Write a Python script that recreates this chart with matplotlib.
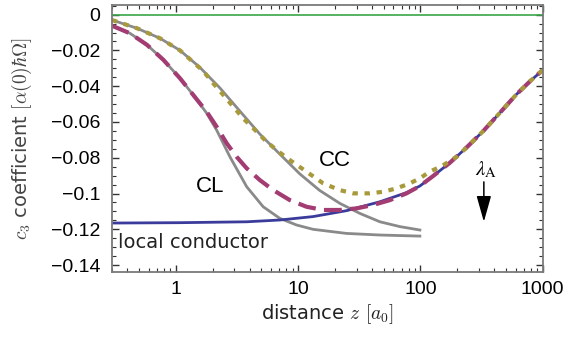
"""c3 coefficient vs distance z: local conductor, CL and CC curves."""

import numpy as np
import matplotlib
matplotlib.use('Agg')
import matplotlib.pyplot as plt
from matplotlib.ticker import FixedLocator, FuncFormatter, MultipleLocator, LogLocator, NullFormatter

# --- data ------------------------------------------------------------------
# local conductor (blue, solid)
z_local = [0.3, 1.08, 3.79, 7.08, 13.2, 24.8, 46.6, 76.9, 98.9, 127, 174, 238, 326, 446,
           611, 800, 1000]
c3_local = [-0.1165, -0.1163, -0.1158, -0.1148, -0.1129, -0.1096, -0.1046, -0.0995, -0.0958,
            -0.0902, -0.0828, -0.0743, -0.0651, -0.0549, -0.0445, -0.0368, -0.0310]

# CL, gray solid (ends at z = 100)
z_cl = [0.3, 0.42, 0.58, 0.79, 1.08, 1.385, 1.78, 2.15, 2.76, 3.79, 5.17, 7.08, 9.7, 13.2,
        24.8, 46.6, 98.9]
c3_cl = [-0.0062, -0.0104, -0.0169, -0.0253, -0.0356, -0.0449, -0.0550, -0.0645, -0.0794,
         -0.0962, -0.1074, -0.1139, -0.1176, -0.1200, -0.1223, -0.1232, -0.1238]

# CC, gray solid (ends at z = 100)
z_cc = [0.3, 0.48, 0.74, 1.08, 1.57, 2.29, 3.34, 4.86, 7.08, 10.3, 15.0, 21.9, 31.9, 46.6,
        67.9, 98.9]
c3_cc = [-0.0030, -0.0076, -0.0132, -0.0200, -0.0295, -0.0410, -0.0540, -0.0668, -0.0780,
         -0.0890, -0.0983, -0.1055, -0.1111, -0.1158, -0.1185, -0.1204]

# CL full result (purple, dashed)
z_cl_full = [0.3, 0.42, 0.58, 0.79, 1.08, 1.385, 1.78, 2.15, 2.60, 3.13, 3.79, 4.86, 6.25,
             8.55, 11.7, 16.0, 21.9, 30.0, 41.0, 56.2, 76.9, 98.9, 127, 174, 238, 326, 446,
             611, 800, 1000]
c3_cl_full = [-0.0062, -0.0104, -0.0169, -0.0253, -0.0356, -0.0449, -0.0542, -0.0626, -0.0719,
              -0.0794, -0.0859, -0.0925, -0.0981, -0.1037, -0.1074, -0.1092, -0.1092, -0.1083,
              -0.1064, -0.1037, -0.0999, -0.0958, -0.0902, -0.0828, -0.0743, -0.0651, -0.0549,
              -0.0445, -0.0368, -0.0310]

# CC full result (olive, dotted)
z_cc_full = [0.3, 0.48, 0.74, 1.08, 1.67, 2.02, 2.44, 2.94, 3.55, 4.29, 5.34, 6.65, 8.55, 11.7,
             16.0, 21.9, 28.2, 38.6, 49.6, 63.8, 81.9, 98.9, 119, 150, 200, 238, 326, 446,
             611, 800, 1000]
c3_cc_full = [-0.0030, -0.0076, -0.0132, -0.0200, -0.0315, -0.0384, -0.0449, -0.0514, -0.0580,
              -0.0635, -0.0701, -0.0757, -0.0813, -0.0878, -0.0943, -0.0981, -0.0999, -0.0999,
              -0.0990, -0.0971, -0.0943, -0.0915, -0.0878, -0.0846, -0.0792, -0.0743, -0.0651,
              -0.0549, -0.0445, -0.0368, -0.0310]

yticks = [0, -0.02, -0.04, -0.06, -0.08, -0.1, -0.12, -0.14]
lambda_a = 330  # position of the lambda_A arrow

# --- figure -----------------------------------------------------------------
fig = plt.figure(figsize=(5.68, 3.40), dpi=100)
ax = fig.add_axes([0.1966, 0.2009, 0.7589, 0.7844])

ax.axhline(0, color='#3aa64a', lw=1.2)
ax.plot(z_cl, c3_cl, color='#8a8a8a', lw=2.0)
ax.plot(z_cc, c3_cc, color='#8a8a8a', lw=2.0)
ax.plot(z_local, c3_local, color='#3b3b9c', lw=2.0)
ax.plot(z_cl_full, c3_cl_full, color='#a23c72', lw=3.0, dashes=(4.3, 2.0))
ax.plot(z_cc_full, c3_cc_full, color='#a89a3c', lw=3.0, dashes=(1.3, 1.6))

ax.set_xscale('log')
ax.set_xlim(0.298, 1000)
ax.set_ylim(-0.1437, 0.0054)

ax.xaxis.set_major_locator(FixedLocator([1, 10, 100, 1000]))
ax.xaxis.set_major_formatter(FuncFormatter(lambda v, p: f'{v:g}'))
ax.xaxis.set_minor_locator(LogLocator(base=10, subs=np.arange(2, 10)))
ax.xaxis.set_minor_formatter(NullFormatter())
ax.yaxis.set_major_locator(FixedLocator(yticks))
ax.yaxis.set_major_formatter(FuncFormatter(lambda v, p: f'{v:g}'.replace('-', '\u2212')))
ax.yaxis.set_minor_locator(MultipleLocator(0.005))

ax.tick_params(which='both', direction='in', top=True, right=True, color='#333333',
               labelsize=14, labelfontfamily='Liberation Sans')
ax.tick_params(which='major', length=5, width=1)
ax.tick_params(which='minor', length=3, width=0.8)
ax.tick_params(axis='x', which='major', pad=7)
ax.tick_params(axis='y', which='major', pad=8)
for s in ax.spines.values():
    s.set_color('#7a7a7a')
    s.set_linewidth(1.3)

ax.set_xlabel(r'distance $z$ $[a_0]$', fontsize=14, color='#222222',
              math_fontfamily='cm', labelpad=3)
ax.set_ylabel(r'$c_3$ coefficient $[\alpha(0)\hbar\Omega]$', fontsize=14, color='#444444',
              math_fontfamily='cm', labelpad=12)

ax.text(20, -0.0813, 'CC', fontsize=16, family='Liberation Sans', ha='center', va='center')
ax.text(1.9, -0.0962, 'CL', fontsize=16, family='Liberation Sans', ha='center', va='center')
ax.text(0.335, -0.1275, 'local conductor', fontsize=14, color='#222222', ha='left', va='center')
ax.text(lambda_a * 1.05, -0.0865, r'$\lambda_{\rm A}$', fontsize=15, math_fontfamily='stix',
        ha='center', va='center')
ax.annotate('', xy=(lambda_a, -0.1158), xytext=(lambda_a, -0.0935),
            arrowprops=dict(arrowstyle='-|>,head_length=1.6,head_width=0.45',
                            color='black', lw=1.1, mutation_scale=10,
                            shrinkA=0, shrinkB=0))

fig.savefig('out.png', dpi=100)
